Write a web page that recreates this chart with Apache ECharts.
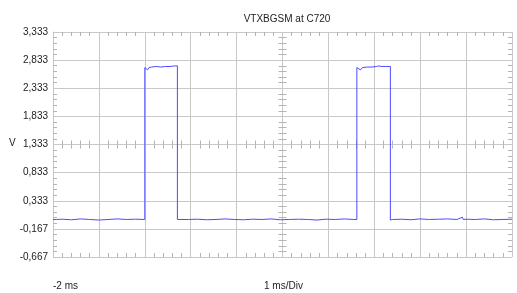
<!DOCTYPE html>
<html>
<head>
<meta charset="utf-8">
<script src="https://cdn.jsdelivr.net/npm/echarts@6/dist/echarts.min.js"></script>
<style>
  html, body { margin: 0; padding: 0; background: #fff; }
  #chart { width: 517px; height: 293px; }
</style>
</head>
<body>
<div id="chart"></div>
<script>
// time in ms, voltage in V
const timeMs = [
  -2.00, -1.97, -1.93, -1.80, -1.60, -1.40, -1.20, -1.00, -0.80, -0.60, -0.40, -0.20, 0.00,
  0.00, 0.03, 0.06, 0.09, 0.15, 0.25, 0.35, 0.45, 0.55, 0.65, 0.71,
  0.71, 0.75, 0.95, 1.15, 1.35, 1.55, 1.75, 1.95, 2.15, 2.35, 2.55, 2.75, 2.95, 3.15, 3.35, 3.55, 3.75, 3.95, 4.15, 4.35, 4.55, 4.62,
  4.62, 4.66, 4.70, 4.74, 4.85, 4.95, 5.05, 5.10, 5.15, 5.25, 5.35,
  5.35, 5.40, 5.60, 5.80, 6.00, 6.20, 6.40, 6.60, 6.80, 6.92, 6.94, 7.00, 7.20, 7.40, 7.60, 7.80, 8.00
];
const volts = [
  0.00, 0.03, 0.00, 0.005, -0.005, 0.01, 0.00, -0.01, 0.00, 0.01, 0.00, 0.005, 0.00,
  2.70, 2.70, 2.66, 2.70, 2.71, 2.72, 2.71, 2.72, 2.72, 2.73, 2.73,
  0.00, -0.01, 0.00, 0.005, -0.005, 0.00, 0.01, 0.00, -0.005, 0.005, 0.00, 0.01, -0.005, 0.00, 0.005, 0.00, -0.01, 0.005, 0.00, 0.01, 0.00, 0.00,
  2.70, 2.70, 2.66, 2.70, 2.71, 2.71, 2.72, 2.73, 2.72, 2.72, 2.72,
  -0.01, 0.00, 0.005, -0.005, 0.01, 0.00, 0.005, 0.01, 0.00, 0.04, 0.00, 0.005, 0.00, 0.01, -0.005, 0.00, 0.005
];
const yTickLabels = ["-0,667", "-0,167", "0,333", "0,833", "1,333", "1,833", "2,333", "2,833", "3,333"];
const titleText = "VTXBGSM at C720";

const gridColor = "#c8c8c8";
const tickColor = "#b4b4b4";
const labelFont = "'Liberation Sans Narrow', 'Liberation Sans', Arial, sans-serif";

function minor(len) {
  return { show: true, splitNumber: 5, length: len, lineStyle: { color: tickColor, width: 1 } };
}

const chart = echarts.init(document.getElementById("chart"));
const box = { left: 53, top: 32, width: 459, height: 225 };

chart.setOption({
  animation: false,
  title: {
    text: titleText,
    left: 282,
    textAlign: "center",
    top: 9,
    textStyle: { fontSize: 10, fontWeight: "normal", color: "#222", fontFamily: "'Liberation Sans', Arial, sans-serif" }
  },
  grid: [
    Object.assign({}, box),
    Object.assign({}, box)
  ],
  xAxis: [
    {
      gridIndex: 0, type: "value", min: -2, max: 8, interval: 1, position: "bottom",
      axisLine: { show: false, onZero: false },
      axisTick: { show: false, inside: true },
      minorTick: minor(4),
      axisLabel: { show: false },
      splitLine: { show: true, lineStyle: { color: gridColor, width: 1 } }
    },
    {
      gridIndex: 0, type: "value", min: -2, max: 8, interval: 1, position: "top",
      axisLine: { show: true, onZero: false, lineStyle: { color: gridColor } },
      axisTick: { show: false, inside: true },
      minorTick: minor(4),
      axisLabel: { show: false },
      splitLine: { show: false }
    },
    {
      gridIndex: 1, type: "value", min: -5, max: 5, interval: 1, position: "bottom",
      axisLine: { show: false, onZero: true },
      axisTick: { show: false, inside: true },
      minorTick: minor(4),
      axisLabel: { show: false },
      splitLine: { show: false }
    },
    {
      gridIndex: 1, type: "value", min: -5, max: 5, interval: 1, position: "top",
      axisLine: { show: false, onZero: true },
      axisTick: { show: false, inside: true },
      minorTick: minor(4),
      axisLabel: { show: false },
      splitLine: { show: false }
    }
  ],
  yAxis: [
    {
      gridIndex: 0, type: "value", min: -0.667, max: 3.333, interval: 0.5, position: "left",
      axisLine: { show: true, onZero: false, lineStyle: { color: gridColor } },
      axisTick: { show: false, inside: true },
      minorTick: minor(4),
      axisLabel: {
        show: true, margin: 5, fontSize: 10, color: "#222", fontFamily: labelFont,
        formatter: function (v, i) { return yTickLabels[i]; }
      },
      splitLine: { show: true, lineStyle: { color: gridColor, width: 1 } }
    },
    {
      gridIndex: 0, type: "value", min: -0.667, max: 3.333, interval: 0.5, position: "right",
      axisLine: { show: false, onZero: false },
      axisTick: { show: false, inside: true },
      minorTick: minor(4),
      axisLabel: { show: false },
      splitLine: { show: false }
    },
    {
      gridIndex: 1, type: "value", min: -4, max: 4, interval: 1, position: "left",
      axisLine: { show: false, onZero: true },
      axisTick: { show: false, inside: true },
      minorTick: minor(4),
      axisLabel: { show: false },
      splitLine: { show: false }
    },
    {
      gridIndex: 1, type: "value", min: -4, max: 4, interval: 1, position: "right",
      axisLine: { show: false, onZero: true },
      axisTick: { show: false, inside: true },
      minorTick: minor(4),
      axisLabel: { show: false },
      splitLine: { show: false }
    }
  ],
  graphic: [
    { type: "text", left: 9, top: 138, style: { text: "V", fontSize: 10, fill: "#222", fontFamily: "'Liberation Sans', Arial, sans-serif" } },
    { type: "text", left: 53, top: 281, style: { text: "-2 ms", fontSize: 10, fill: "#222", fontFamily: "'Liberation Sans', Arial, sans-serif" } },
    { type: "text", left: 264, top: 281, style: { text: "1 ms/Div", fontSize: 10, fill: "#222", fontFamily: "'Liberation Sans', Arial, sans-serif" } }
  ],
  series: [
    {
      type: "line",
      xAxisIndex: 0,
      yAxisIndex: 0,
      data: timeMs.map(function (t, i) { return [t, volts[i]]; }),
      showSymbol: false,
      symbol: "none",
      lineStyle: { color: "#4b4bff", width: 1 },
      z: 5
    }
  ]
});
</script>
</body>
</html>
